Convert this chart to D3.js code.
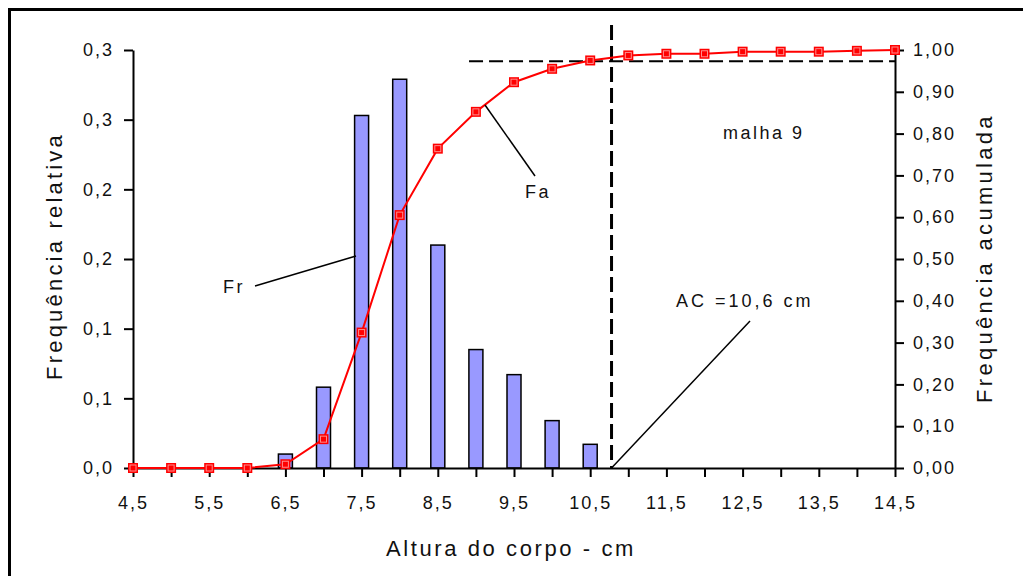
<!DOCTYPE html>
<html>
<head>
<meta charset="utf-8">
<script src="https://cdn.jsdelivr.net/npm/d3@7"></script>
<style>
  body { margin: 0; background: #fff; }
  svg text { font-family: "Liberation Sans", Arial, sans-serif; fill: #111; }
</style>
</head>
<body>
<svg id="chart" width="1023" height="576"></svg>
<script>
// classes of body height (cm)
var alturas = [4.5, 5, 5.5, 6, 6.5, 7, 7.5, 8, 8.5, 9, 9.5, 10, 10.5, 11, 11.5, 12, 12.5, 13, 13.5, 14, 14.5];
// relative frequency (bars), only where a bar is drawn
var frX = [6.5, 7, 7.5, 8, 8.5, 9, 9.5, 10, 10.5];
var frValues = [0.010, 0.058, 0.253, 0.279, 0.160, 0.085, 0.067, 0.034, 0.017];
// cumulative frequency (red line)
var faValues = [0, 0, 0, 0, 0.009, 0.069, 0.324, 0.605, 0.764, 0.852, 0.923, 0.955, 0.975,
                0.987, 0.991, 0.991, 0.996, 0.996, 0.996, 0.998, 1.0];

var leftTicks = [0, 0.05, 0.1, 0.15, 0.2, 0.25, 0.3];
var leftTickLabels = ["0,0", "0,1", "0,1", "0,2", "0,2", "0,3", "0,3"];
var rightTicks = [0, 0.1, 0.2, 0.3, 0.4, 0.5, 0.6, 0.7, 0.8, 0.9, 1.0];
var xLabelTicks = [4.5, 5.5, 6.5, 7.5, 8.5, 9.5, 10.5, 11.5, 12.5, 13.5, 14.5];

var acValue = 10.78;   // where the dashed cut line sits
var acLevel = 0.973;   // horizontal dashed level (Fa)

var svg = d3.select("#chart");

var x = d3.scaleLinear().domain([4.5, 14.5]).range([133, 895]);
var yL = d3.scaleLinear().domain([0, 0.3]).range([468, 50]);
var yR = d3.scaleLinear().domain([0, 1]).range([468, 50]);

function comma(s) { return s.replace(".", ","); }

// outer frame (runs past the right and bottom edges)
svg.append("rect")
    .attr("x", 9.5).attr("y", 9.5)
    .attr("width", 1040).attr("height", 600)
    .attr("fill", "none").attr("stroke", "#000").attr("stroke-width", 3);

// bars
svg.selectAll("rect.bar").data(frValues).enter().append("rect")
    .attr("class", "bar")
    .attr("x", (d, i) => x(frX[i]) - 7)
    .attr("y", d => yL(d))
    .attr("width", 14)
    .attr("height", d => yL(0) - yL(d))
    .attr("fill", "#9999ff")
    .attr("stroke", "#000")
    .attr("stroke-width", 1.5);

// axes
var tickFont = function (g) {
    g.selectAll("text").style("font-size", "18px").style("letter-spacing", "2px");
    g.select(".domain").attr("stroke", "#000").attr("stroke-width", 2);
    g.selectAll(".tick line").attr("stroke", "#000").attr("stroke-width", 2);
};

var xAxis = svg.append("g").attr("transform", "translate(0,468)")
    .call(d3.axisBottom(x).tickValues(alturas).tickSize(9).tickSizeOuter(0)
        .tickFormat(d => xLabelTicks.indexOf(d) >= 0 ? comma(d.toFixed(1)) : ""))
    .call(tickFont);
xAxis.selectAll("text").attr("dy", "1.6em");

var leftAxis = svg.append("g").attr("transform", "translate(133,0)")
    .call(d3.axisLeft(yL).tickValues(leftTicks).tickSize(9).tickSizeOuter(0)
        .tickFormat((d, i) => leftTickLabels[i]))
    .call(tickFont);
leftAxis.selectAll("text").attr("x", -19);

var rightAxis = svg.append("g").attr("transform", "translate(895,0)")
    .call(d3.axisRight(yR).tickValues(rightTicks).tickSize(9).tickSizeOuter(0)
        .tickFormat(d => comma(d.toFixed(2))))
    .call(tickFont);
rightAxis.selectAll("text").attr("x", 18);

// dashed guide lines
svg.append("line")
    .attr("x1", x(8.91)).attr("x2", x(14.5))
    .attr("y1", yR(acLevel)).attr("y2", yR(acLevel))
    .attr("stroke", "#000").attr("stroke-width", 2).attr("stroke-dasharray", "14,6");
svg.append("line")
    .attr("x1", x(acValue)).attr("x2", x(acValue))
    .attr("y1", 25).attr("y2", yR(0))
    .attr("stroke", "#000").attr("stroke-width", 3).attr("stroke-dasharray", "15,6");

// cumulative line + markers
var line = d3.line().x((d, i) => x(alturas[i])).y(d => yR(d));
svg.append("path").datum(faValues)
    .attr("d", line)
    .attr("fill", "none").attr("stroke", "#ff0000").attr("stroke-width", 2);

var mk = svg.selectAll("g.mk").data(faValues).enter().append("g")
    .attr("class", "mk")
    .attr("transform", (d, i) => "translate(" + x(alturas[i]) + "," + yR(d) + ")");
mk.append("rect").attr("x", -5).attr("y", -5).attr("width", 10).attr("height", 10)
    .attr("fill", "#ff0000");
mk.append("rect").attr("x", -3).attr("y", -3).attr("width", 6).attr("height", 6)
    .attr("fill", "none").attr("stroke", "#ff8c8c").attr("stroke-width", 1);

// annotations
function leader(x1, y1, x2, y2) {
    svg.append("line").attr("x1", x1).attr("y1", y1).attr("x2", x2).attr("y2", y2)
        .attr("stroke", "#000").attr("stroke-width", 1.5);
}
leader(255, 286, 356, 256);
leader(485, 105, 535, 176);
leader(x(acValue), yR(0), 750, 321);

function label(txt, tx, ty, ls) {
    svg.append("text").attr("x", tx).attr("y", ty)
        .style("font-size", "18px").style("letter-spacing", (ls || 2.5) + "px")
        .text(txt);
}
label("Fr", 223, 293);
label("Fa", 525, 198);
label("malha 9", 723, 139);
label("AC =10,6 cm", 676, 307, 3);

// axis titles
svg.append("text")
    .attr("transform", "translate(62,256) rotate(-90)")
    .attr("text-anchor", "middle")
    .style("font-size", "22px").style("letter-spacing", "3.2px")
    .text("Frequência relativa");
svg.append("text")
    .attr("transform", "translate(992,258) rotate(-90)")
    .attr("text-anchor", "middle")
    .style("font-size", "22px").style("letter-spacing", "3.3px")
    .text("Frequência acumulada");
svg.append("text")
    .attr("x", 511).attr("y", 556)
    .attr("text-anchor", "middle")
    .style("font-size", "22px").style("letter-spacing", "2.6px")
    .text("Altura do corpo - cm");
</script>
</body>
</html>
